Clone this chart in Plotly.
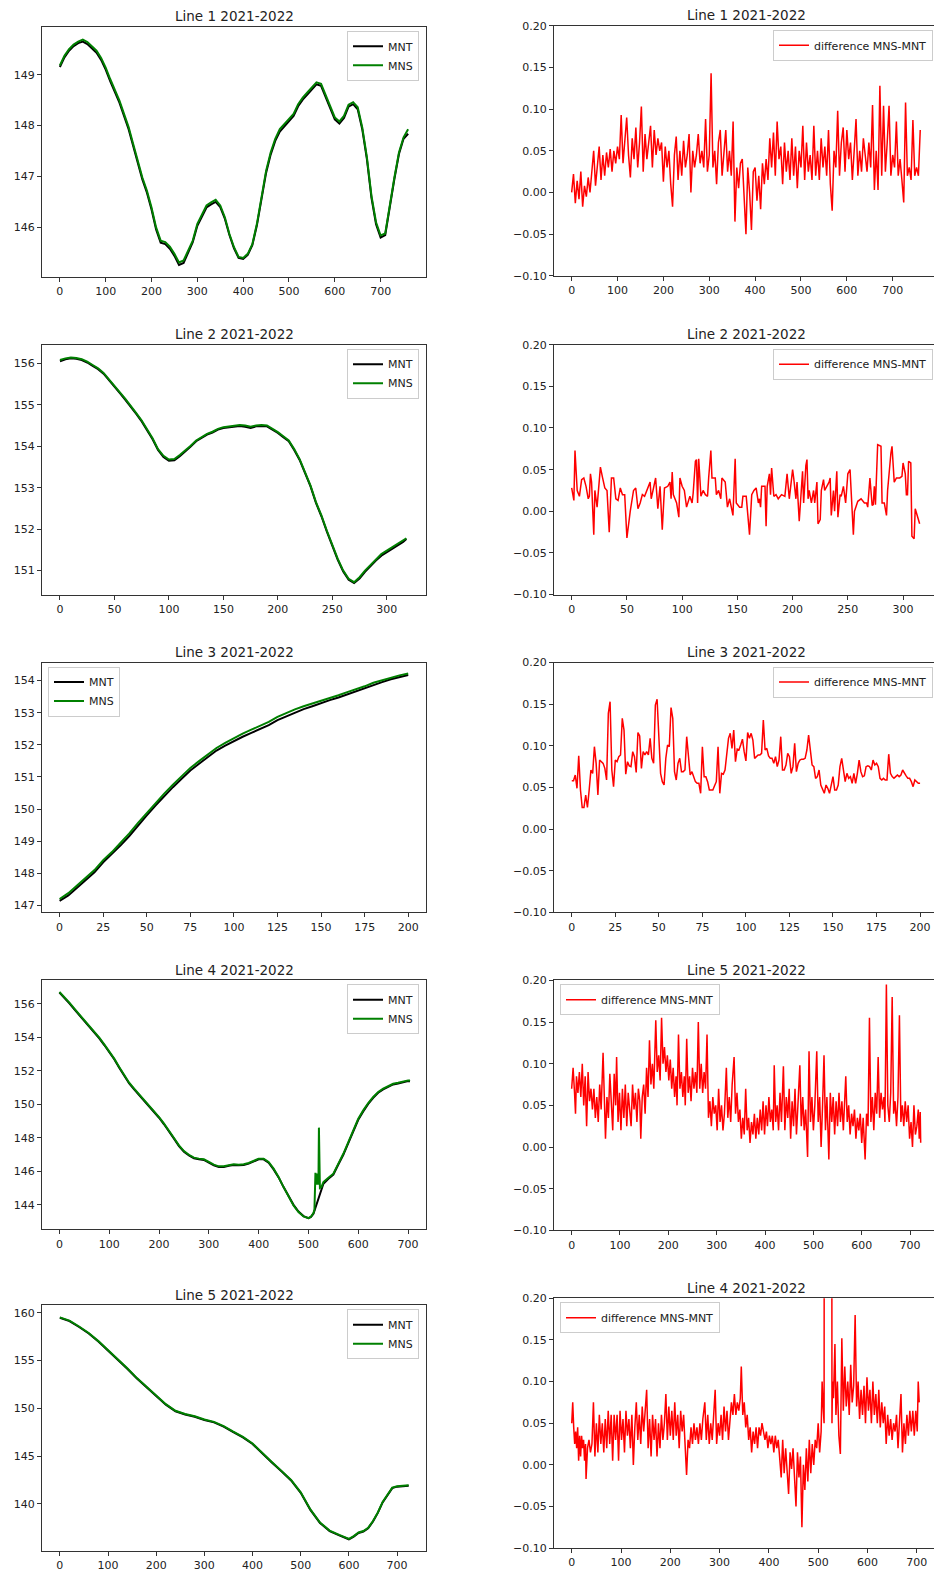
import plotly.graph_objects as go

# ---------------- data ----------------
line1_x = list(range(0, 761, 10))
line1_mns = [149.18, 149.37, 149.50, 149.59, 149.65, 149.69, 149.64, 149.55, 149.47, 149.33,
             149.14, 148.91, 148.70, 148.49, 148.23, 147.97, 147.64, 147.31, 146.98, 146.72,
             146.39, 146.00, 145.74, 145.71, 145.62, 145.48, 145.31, 145.35, 145.54, 145.74,
             146.07, 146.26, 146.43, 146.49, 146.54, 146.43, 146.20, 145.87, 145.61, 145.42,
             145.40, 145.48, 145.67, 146.07, 146.59, 147.11, 147.47, 147.74, 147.93, 148.03,
             148.13, 148.23, 148.42, 148.55, 148.65, 148.76, 148.85, 148.82, 148.59, 148.36,
             148.16, 148.08, 148.19, 148.41, 148.46, 148.36, 147.96, 147.38, 146.62, 146.10,
             145.84, 145.88, 146.46, 146.98, 147.47, 147.77, 147.93]
line1_mnt = [149.15, 149.34, 149.47, 149.56, 149.62, 149.65, 149.60, 149.51, 149.43, 149.29,
             149.10, 148.87, 148.66, 148.45, 148.19, 147.93, 147.60, 147.27, 146.94, 146.68,
             146.35, 145.96, 145.70, 145.67, 145.58, 145.44, 145.26, 145.30, 145.50, 145.71,
             146.03, 146.22, 146.39, 146.45, 146.50, 146.40, 146.17, 145.85, 145.59, 145.40,
             145.38, 145.46, 145.65, 146.04, 146.55, 147.07, 147.43, 147.70, 147.88, 147.98,
             148.09, 148.19, 148.38, 148.51, 148.61, 148.72, 148.81, 148.78, 148.55, 148.32,
             148.12, 148.04, 148.15, 148.37, 148.42, 148.32, 147.92, 147.34, 146.58, 146.06,
             145.80, 145.85, 146.43, 146.95, 147.44, 147.74, 147.84]

line2_x = list(range(0, 316, 5)) + [318]
line2_mns = [156.08, 156.12, 156.14, 156.13, 156.10, 156.04, 155.96, 155.88, 155.77, 155.62,
             155.46, 155.30, 155.14, 154.98, 154.80, 154.62, 154.42, 154.19, 153.93, 153.77,
             153.68, 153.69, 153.79, 153.89, 154.01, 154.14, 154.22, 154.30, 154.35, 154.42,
             154.46, 154.48, 154.50, 154.51, 154.50, 154.47, 154.50, 154.51, 154.50, 154.43,
             154.34, 154.24, 154.14, 153.93, 153.69, 153.37, 153.05, 152.65, 152.33, 151.96,
             151.60, 151.28, 151.00, 150.80, 150.72, 150.84, 151.00, 151.14, 151.28, 151.40,
             151.48, 151.56, 151.64, 151.72, 151.78]
line2_mnt = [156.05, 156.10, 156.12, 156.11, 156.08, 156.02, 155.94, 155.86, 155.75, 155.60,
             155.44, 155.28, 155.12, 154.96, 154.78, 154.60, 154.40, 154.17, 153.91, 153.74,
             153.65, 153.66, 153.76, 153.87, 153.99, 154.12, 154.20, 154.28, 154.33, 154.40,
             154.44, 154.46, 154.48, 154.49, 154.47, 154.44, 154.48, 154.49, 154.48, 154.41,
             154.32, 154.22, 154.12, 153.91, 153.67, 153.35, 153.03, 152.63, 152.31, 151.94,
             151.58, 151.26, 150.98, 150.78, 150.70, 150.81, 150.97, 151.11, 151.24, 151.36,
             151.44, 151.52, 151.61, 151.69, 151.76]

line3_x = list(range(0, 201, 5))
line3_mns = [147.20, 147.38, 147.62, 147.86, 148.10, 148.41, 148.66, 148.95, 149.24, 149.57,
             149.88, 150.19, 150.48, 150.76, 151.02, 151.28, 151.49, 151.70, 151.90, 152.06,
             152.21, 152.35, 152.47, 152.58, 152.71, 152.87, 152.99, 153.10, 153.20, 153.28,
             153.38, 153.46, 153.54, 153.64, 153.72, 153.82, 153.93, 154.01, 154.10, 154.16,
             154.22]
line3_mnt = [147.14, 147.31, 147.55, 147.79, 148.03, 148.34, 148.59, 148.87, 149.16, 149.49,
             149.80, 150.11, 150.40, 150.68, 150.94, 151.20, 151.41, 151.62, 151.82, 151.97,
             152.12, 152.25, 152.37, 152.49, 152.61, 152.77, 152.89, 153.00, 153.11, 153.20,
             153.30, 153.39, 153.47, 153.57, 153.65, 153.75, 153.86, 153.95, 154.04, 154.11,
             154.17]

line4_mns_x = (list(range(0, 501, 10)) + [505, 510, 512, 514, 516, 518, 520, 521, 523, 526, 530]
               + list(range(540, 701, 10)) + [704])
line4_mns = [156.70, 156.40, 156.06, 155.70, 155.36, 155.00, 154.67, 154.31, 153.97, 153.57,
             153.15, 152.72, 152.22, 151.72, 151.28, 150.93, 150.59, 150.23, 149.93, 149.59,
             149.23, 148.84, 148.44, 147.98, 147.54, 147.20, 146.98, 146.81, 146.75, 146.71,
             146.55, 146.39, 146.29, 146.29, 146.35, 146.41, 146.39, 146.41, 146.49, 146.61,
             146.75, 146.75, 146.55, 146.15, 145.65, 145.05, 144.46, 143.96, 143.56, 143.30,
             143.20,
             143.28, 143.50, 143.70, 145.90, 145.20, 145.85, 145.20, 148.60, 145.00, 145.05, 145.35,
             145.61, 145.85, 146.45, 147.04, 147.74, 148.44, 149.13, 149.63, 150.07, 150.43,
             150.73, 150.93, 151.06, 151.22, 151.28, 151.36, 151.42,
             151.42]
line4_mnt_x = (list(range(0, 501, 10)) + [505, 510, 514, 518, 522, 526, 530]
               + list(range(540, 701, 10)) + [704])
line4_mnt = [156.66, 156.36, 156.02, 155.66, 155.32, 154.96, 154.63, 154.27, 153.93, 153.53,
             153.11, 152.68, 152.18, 151.68, 151.24, 150.89, 150.55, 150.19, 149.89, 149.55,
             149.19, 148.80, 148.40, 147.94, 147.50, 147.16, 146.94, 146.77, 146.71, 146.67,
             146.51, 146.35, 146.25, 146.25, 146.33, 146.37, 146.35, 146.37, 146.45, 146.57,
             146.71, 146.71, 146.51, 146.11, 145.63, 145.05, 144.48, 143.99, 143.59, 143.32,
             143.20,
             143.27, 143.46, 143.80, 144.10, 144.45, 144.85, 145.25,
             145.55, 145.80, 146.40, 146.98, 147.68, 148.38, 149.07, 149.57, 150.02, 150.38,
             150.68, 150.88, 151.02, 151.18, 151.24, 151.32, 151.38,
             151.37]

line5_x = list(range(0, 601, 20)) + [610, 620, 630, 640, 650, 660, 670, 680, 690, 700, 710, 724]
line5_mns = [159.52, 159.18, 158.56, 157.88, 157.03, 156.07, 155.21, 154.19, 153.16, 152.24,
             151.32, 150.43, 149.74, 149.40, 149.16, 148.82, 148.58, 148.14, 147.56, 147.01,
             146.32, 145.40, 144.38, 143.45, 142.50, 141.20, 139.42, 138.05, 137.20, 136.75,
             136.34,
             136.62, 137.00, 137.15, 137.50, 138.20, 139.10, 140.20, 141.00, 141.70, 141.85,
             141.92, 141.95]
line5_mnt = [159.47, 159.13, 158.51, 157.83, 156.98, 156.02, 155.16, 154.14, 153.11, 152.19,
             151.27, 150.38, 149.69, 149.35, 149.11, 148.77, 148.53, 148.09, 147.51, 146.96,
             146.27, 145.35, 144.33, 143.40, 142.45, 141.15, 139.37, 138.00, 137.15, 136.70,
             136.29,
             136.57, 136.95, 137.10, 137.45, 138.15, 139.05, 140.15, 140.95, 141.65, 141.80,
             141.87, 141.90]

diff1_x = list(range(0, 761, 4))
diff1 = [0.0, 0.022, -0.013, 0.014, -0.008, 0.025, -0.017, 0.008, -0.005, 0.018,
         0.0, 0.03, 0.05, 0.008, 0.035, 0.055, 0.015, 0.045, 0.02, 0.048,
         0.03, 0.052, 0.025, 0.05, 0.035, 0.055, 0.04, 0.093, 0.035, 0.06,
         0.09, 0.045, 0.018, 0.065, 0.04, 0.078, 0.03, 0.06, 0.103, 0.025,
         0.07, 0.04, 0.065, 0.08, 0.03, 0.075, 0.045, 0.065, 0.05, 0.06,
         0.013, 0.055, 0.03, 0.05, 0.01, -0.017, 0.045, 0.067, 0.015, 0.05,
         0.02, 0.062, 0.03, 0.045, 0.07, 0.0, 0.05, 0.03, 0.045, 0.07,
         0.035, 0.05, 0.03, 0.088, 0.025, 0.045, 0.143, 0.03, 0.05, 0.01,
         0.06, 0.075, 0.02, 0.045, 0.075, 0.025, 0.05, 0.02, 0.085, -0.035,
         0.03, 0.005, 0.035, 0.04, -0.01, -0.05, 0.03, 0.0, -0.045, 0.025,
         0.03, -0.01, 0.02, -0.02, 0.035, 0.01, 0.04, 0.015, 0.065, 0.03,
         0.072, 0.02, 0.085, 0.04, 0.055, 0.01, 0.06, 0.025, 0.05, 0.015,
         0.065, 0.02, 0.055, 0.005, 0.05, 0.03, 0.08, 0.015, 0.06, 0.025,
         0.045, 0.015, 0.08, 0.02, 0.05, 0.015, 0.065, 0.03, 0.055, 0.02,
         0.075, 0.01, -0.022, 0.05, 0.03, 0.098, 0.02, 0.06, 0.078, 0.025,
         0.075, 0.04, 0.06, 0.015, 0.05, 0.088, 0.02, 0.05, 0.025, 0.065,
         0.045, 0.025, 0.06, 0.03, 0.105, 0.003, 0.05, 0.003, 0.128, 0.02,
         0.104, 0.025, 0.06, 0.104, 0.02, 0.045, 0.03, 0.085, 0.02, 0.04,
         0.015, -0.012, 0.108, 0.02, 0.03, 0.015, 0.087, 0.02, 0.03, 0.02,
         0.075]

diff2_x = [0, 2, 3, 5, 7, 9, 11, 13, 15, 16, 17, 18, 20, 21, 23, 26, 28, 30, 32, 34,
           36, 38, 40, 42, 44, 46, 48, 50, 53, 54, 56, 58, 60, 62, 64, 66, 68, 71, 72, 76,
           78, 80, 82, 84, 87, 89, 90, 91, 92, 95, 97, 98, 100, 102, 104, 107, 109, 110, 112, 113,
           114, 115, 117, 119, 121, 123, 124, 126, 127, 130, 131, 133, 135, 136, 139, 141, 143, 145, 146, 148,
           149, 152, 154, 155, 158, 161, 163, 165, 167, 169, 170, 171, 172, 175, 176, 177, 179, 180, 181, 183,
           185, 187, 190, 193, 195, 197, 200, 201, 203, 204, 206, 209, 210, 212, 213, 214, 215, 217, 219, 220,
           222, 223, 225, 226, 228, 229, 231, 233, 234, 235, 237, 238, 240, 241, 243, 244, 246, 248, 250, 252,
           255, 256, 259, 262, 265, 267, 268, 270, 272, 273, 274, 275, 277, 280, 281, 283, 285, 286, 289, 290,
           292, 294, 297, 299, 300, 302, 303, 304, 305, 307, 308, 310, 311, 313, 315]
diff2 = [0.028, 0.013, 0.073, 0.025, 0.018, 0.038, 0.04, 0.03, 0.015, 0.018, 0.045, 0.035, -0.028, 0.025, 0.005, 0.053, 0.04, 0.028, 0.025, -0.025,
         0.04, 0.04, 0.015, 0.013, 0.028, 0.02, 0.02, -0.032, 0.0, 0.008, 0.025, 0.028, 0.003, 0.01, 0.02, 0.018, 0.025, 0.035, 0.015, 0.04,
         0.003, 0.03, -0.022, 0.028, 0.03, 0.035, 0.015, 0.047, 0.02, 0.01, -0.007, 0.04, 0.03, 0.025, 0.005, 0.018, 0.01, 0.022, 0.06, 0.062,
         0.01, 0.063, 0.018, 0.025, 0.02, 0.018, 0.04, 0.073, 0.04, 0.04, 0.02, 0.025, 0.015, 0.04, 0.035, 0.005, 0.015, 0.0, -0.005, 0.063,
         0.01, 0.005, 0.005, 0.018, 0.018, -0.028, 0.02, 0.025, 0.028, 0.01, 0.015, 0.005, 0.03, 0.03, -0.018, 0.03, 0.045, 0.02, 0.052, 0.018,
         0.02, 0.015, 0.02, 0.018, 0.045, 0.015, 0.05, 0.04, 0.015, 0.035, -0.012, 0.048, 0.01, 0.055, 0.062, 0.015, 0.025, 0.01, 0.025, 0.01,
         0.035, -0.015, -0.01, 0.025, 0.038, 0.025, 0.03, 0.035, 0.04, -0.005, 0.025, 0.0, 0.048, -0.007, 0.02, 0.018, 0.03, 0.01, 0.045, 0.05,
         -0.028, 0.0, 0.012, 0.015, 0.01, 0.01, 0.005, 0.04, 0.007, 0.008, 0.03, 0.008, 0.08, 0.078, 0.01, 0.01, -0.005, 0.025, 0.07, 0.078,
         0.035, 0.04, 0.04, 0.042, 0.058, 0.045, 0.02, 0.02, 0.06, 0.058, -0.03, -0.033, 0.003, -0.005, -0.015]

diff3_x = list(range(0, 201))
diff3 = [0.058, 0.058, 0.065, 0.049, 0.088, 0.047, 0.026, 0.026, 0.041, 0.026,
         0.047, 0.071, 0.067, 0.099, 0.079, 0.041, 0.083, 0.081, 0.079, 0.073,
         0.059, 0.139, 0.153, 0.071, 0.051, 0.083, 0.081, 0.087, 0.089, 0.133,
         0.119, 0.066, 0.081, 0.076, 0.075, 0.093, 0.087, 0.068, 0.116, 0.112,
         0.073, 0.093, 0.089, 0.093, 0.089, 0.109, 0.085, 0.079, 0.149, 0.156,
         0.119, 0.067, 0.057, 0.053, 0.085, 0.101, 0.099, 0.146, 0.133, 0.069,
         0.059, 0.079, 0.085, 0.069, 0.069, 0.071, 0.111, 0.083, 0.065, 0.069,
         0.063, 0.057, 0.055, 0.055, 0.043, 0.099, 0.063, 0.063, 0.057, 0.047,
         0.047, 0.047, 0.052, 0.057, 0.099, 0.043, 0.067, 0.066, 0.071, 0.089,
         0.109, 0.115, 0.097, 0.119, 0.081, 0.096, 0.095, 0.101, 0.108, 0.093,
         0.082, 0.116, 0.109, 0.115, 0.107, 0.085, 0.087, 0.089, 0.089, 0.091,
         0.131, 0.095, 0.097, 0.088, 0.085, 0.085, 0.079, 0.087, 0.075, 0.083,
         0.111, 0.071, 0.071, 0.077, 0.091, 0.087, 0.067, 0.075, 0.103, 0.069,
         0.079, 0.083, 0.084, 0.084, 0.085, 0.095, 0.113, 0.097, 0.077, 0.075,
         0.061, 0.063, 0.071, 0.053, 0.047, 0.043, 0.053, 0.049, 0.043, 0.053,
         0.063, 0.047, 0.047, 0.053, 0.075, 0.085, 0.071, 0.057, 0.067, 0.061,
         0.063, 0.055, 0.067, 0.055, 0.067, 0.083, 0.069, 0.063, 0.064, 0.075,
         0.076, 0.075, 0.071, 0.083, 0.077, 0.079, 0.075, 0.061, 0.059, 0.061,
         0.059, 0.059, 0.090, 0.067, 0.063, 0.061, 0.063, 0.065, 0.063, 0.065,
         0.071, 0.067, 0.064, 0.061, 0.061, 0.057, 0.051, 0.059, 0.057, 0.055,
         0.055]

diff5_x = [0, 3, 6, 8, 10, 13, 16, 19, 22, 25, 28, 31, 34, 37, 40, 43, 46, 49, 52, 55,
           58, 61, 65, 68, 70, 73, 76, 79, 82, 85, 88, 91, 93, 96, 99, 102, 105, 108, 111, 114,
           117, 120, 123, 126, 129, 132, 135, 138, 141, 143, 146, 149, 152, 155, 158, 161, 164, 167, 170, 174,
           177, 180, 183, 186, 189, 192, 195, 198, 201, 204, 207, 210, 213, 216, 218, 221, 224, 227, 230, 233,
           235, 238, 241, 244, 247, 250, 253, 256, 259, 262, 265, 268, 271, 274, 277, 280, 283, 286, 289, 292,
           295, 298, 301, 304, 307, 310, 313, 316, 320, 323, 326, 329, 332, 336, 339, 342, 345, 348, 351, 354,
           357, 360, 363, 366, 369, 372, 375, 378, 381, 384, 387, 390, 393, 396, 399, 402, 405, 408, 411, 414,
           417, 419, 422, 425, 428, 431, 434, 438, 441, 444, 447, 450, 453, 456, 459, 462, 465, 468, 472, 475,
           478, 481, 484, 488, 491, 494, 497, 500, 503, 507, 510, 513, 516, 519, 522, 525, 528, 532, 535, 538,
           541, 544, 547, 550, 553, 556, 559, 562, 565, 567, 570, 573, 576, 579, 582, 585, 588, 591, 594, 597,
           600, 603, 607, 610, 613, 616, 619, 622, 625, 628, 631, 634, 637, 640, 643, 646, 648, 651, 654, 657,
           660, 663, 666, 669, 672, 675, 678, 681, 684, 687, 690, 693, 696, 699, 702, 705, 708, 711, 714, 717,
           719, 721, 722]
diff5 = [0.07, 0.095, 0.065, 0.04, 0.085, 0.065, 0.09, 0.06, 0.1, 0.05, 0.085, 0.025, 0.09, 0.055, 0.07, 0.045, 0.07, 0.035, 0.06, 0.03,
         0.075, 0.045, 0.113, 0.03, 0.01, 0.06, 0.035, 0.088, 0.045, 0.02, 0.088, 0.05, 0.108, 0.03, 0.065, 0.02, 0.07, 0.035, 0.075, 0.025,
         0.065, 0.04, 0.025, 0.075, 0.045, 0.065, 0.03, 0.07, 0.055, 0.01, 0.06, 0.075, 0.04, 0.095, 0.06, 0.128, 0.075, 0.1, 0.07, 0.152,
         0.09, 0.11, 0.08, 0.155, 0.1, 0.12, 0.09, 0.11, 0.08, 0.105, 0.07, 0.095, 0.06, 0.085, 0.05, 0.135, 0.07, 0.09, 0.06, 0.085,
         0.05, 0.13, 0.065, 0.085, 0.055, 0.095, 0.07, 0.09, 0.065, 0.15, 0.07, 0.1, 0.065, 0.09, 0.07, 0.135, 0.035, 0.055, 0.025, 0.06,
         0.04, 0.05, 0.02, 0.07, 0.03, 0.05, 0.02, 0.04, 0.095, 0.035, 0.06, 0.03, 0.075, 0.108, 0.04, 0.065, 0.03, 0.045, 0.01, 0.035,
         0.015, 0.07, 0.02, 0.035, 0.005, 0.03, 0.015, 0.04, 0.01, 0.035, 0.015, 0.045, 0.02, 0.055, 0.015, 0.05, 0.025, 0.06, 0.03, 0.045,
         0.02, 0.098, 0.03, 0.05, 0.02, 0.065, 0.03, 0.097, 0.02, 0.06, 0.035, 0.07, 0.01, 0.055, 0.025, 0.07, 0.015, 0.05, 0.098, 0.025,
         0.06, 0.02, 0.045, -0.012, 0.115, 0.03, 0.06, 0.02, 0.05, 0.115, 0.03, 0.06, 0.0, 0.05, 0.11, 0.02, 0.06, -0.015, 0.065, 0.03,
         0.06, 0.015, 0.055, 0.025, 0.065, 0.03, 0.055, 0.02, 0.05, 0.085, 0.03, 0.05, 0.015, 0.04, 0.025, 0.045, 0.01, 0.035, 0.02, 0.04,
         0.005, 0.035, -0.015, 0.04, 0.025, 0.155, 0.03, 0.06, 0.02, 0.065, 0.04, 0.108, 0.035, 0.065, 0.045, 0.06, 0.03, 0.195, 0.05, 0.03,
         0.065, 0.18, 0.04, 0.055, 0.025, 0.06, 0.158, 0.03, 0.05, 0.025, 0.055, 0.03, 0.05, 0.01, 0.03, 0.0, 0.05, 0.015, 0.025, 0.045,
         0.01, 0.042, 0.005]

diff4_x = [0, 2, 4, 6, 8, 10, 12, 14, 16, 18, 20, 22, 24, 26, 28, 29, 32, 35, 38, 41,
           44, 47, 50, 53, 56, 59, 62, 65, 68, 71, 74, 77, 80, 83, 86, 89, 92, 95, 98, 101,
           104, 107, 110, 113, 116, 119, 122, 125, 128, 131, 134, 137, 140, 143, 146, 149, 152, 155, 158, 161,
           164, 167, 170, 173, 176, 179, 182, 185, 188, 191, 194, 197, 200, 203, 206, 209, 212, 215, 218, 221,
           224, 227, 230, 233, 236, 239, 242, 245, 248, 251, 254, 257, 260, 263, 266, 270, 273, 276, 279, 282,
           285, 288, 291, 294, 297, 300, 303, 306, 309, 312, 315, 318, 321, 324, 327, 330, 333, 336, 339, 342,
           344, 347, 350, 353, 356, 359, 362, 365, 368, 371, 374, 377, 380, 383, 386, 389, 392, 395, 398, 401,
           404, 407, 410, 413, 416, 419, 422, 425, 428, 431, 434, 437, 440, 443, 446, 449, 452, 455, 458, 461,
           464, 467, 470, 473, 476, 479, 482, 485, 488, 491, 494, 497, 500, 503, 506, 508, 510, 512, 514, 516,
           518, 520, 521, 523, 526, 528, 529, 531, 534, 536, 539, 542, 545, 548, 551, 554, 557, 560, 563, 566,
           569, 572, 575, 578, 581, 584, 587, 590, 593, 596, 599, 602, 605, 608, 611, 614, 617, 620, 623, 626,
           629, 632, 635, 638, 641, 644, 647, 650, 653, 656, 659, 662, 665, 668, 671, 674, 677, 680, 683, 686,
           689, 692, 695, 698, 701, 703, 705]
diff4 = [0.05, 0.075, 0.045, 0.025, 0.04, 0.02, 0.045, 0.005, 0.035, 0.01, 0.035, 0.02, 0.03, 0.005, 0.025, -0.017, 0.02, 0.03, 0.015, 0.025,
         0.075, 0.01, 0.05, 0.015, 0.06, 0.025, 0.05, 0.015, 0.055, 0.02, 0.065, 0.025, 0.06, 0.005, 0.06, 0.03, 0.06, 0.005, 0.065, 0.03,
         0.055, 0.015, 0.065, 0.035, 0.055, 0.02, 0.06, 0.0, 0.045, 0.075, 0.03, 0.06, 0.025, 0.07, 0.04, 0.065, 0.09, 0.02, 0.055, 0.01,
         0.06, 0.03, 0.055, 0.01, 0.05, 0.02, 0.06, 0.03, 0.05, 0.085, 0.03, 0.07, 0.035, 0.065, 0.03, 0.075, 0.035, 0.06, 0.02, 0.065,
         0.04, 0.06, 0.02, -0.012, 0.03, 0.02, 0.045, 0.025, 0.05, 0.03, 0.045, 0.025, 0.05, 0.03, 0.055, 0.075, 0.03, 0.06, 0.025, 0.05,
         0.03, 0.06, 0.09, 0.025, 0.05, 0.035, 0.06, 0.03, 0.07, 0.04, 0.065, 0.03, 0.05, 0.075, 0.06, 0.085, 0.06, 0.075, 0.065, 0.08,
         0.118, 0.06, 0.075, 0.045, 0.06, 0.03, 0.045, 0.015, 0.04, 0.025, 0.045, 0.02, 0.045, 0.035, 0.05, 0.04, 0.03, 0.04, 0.02, 0.035,
         0.025, 0.035, 0.015, 0.035, 0.02, 0.03, 0.01, -0.015, 0.03, -0.01, 0.02, -0.005, -0.035, 0.015, -0.005, 0.02, -0.02, -0.05, 0.015, -0.015,
         0.01, -0.075, 0.0, -0.03, 0.02, -0.02, 0.03, -0.01, 0.025, 0.0, 0.03, 0.02, 0.05, 0.015, 0.04, 0.1, 0.07, 0.05, 2.1, 1.4,
         2.0, 1.4, 5.4, 1.9, 1.5, 0.05, 0.1, 0.08, 0.145, 0.06, 0.1, 0.035, 0.013, 0.152, 0.065, 0.118, 0.07, 0.1, 0.06, 0.12,
         0.075, 0.095, 0.18, 0.07, 0.1, 0.055, 0.09, 0.06, 0.095, 0.05, 0.105, 0.065, 0.09, 0.05, 0.1, 0.06, 0.085, 0.05, 0.09, 0.045,
         0.075, 0.05, 0.07, 0.025, 0.06, 0.035, 0.055, 0.03, 0.05, 0.04, 0.06, 0.02, 0.05, 0.085, 0.015, 0.05, 0.025, 0.06, 0.035, 0.065,
         0.04, 0.065, 0.035, 0.065, 0.04, 0.1, 0.075]

titles_left = ["Line 1 2021-2022", "Line 2 2021-2022", "Line 3 2021-2022",
               "Line 4 2021-2022", "Line 5 2021-2022"]
titles_right = ["Line 1 2021-2022", "Line 2 2021-2022", "Line 3 2021-2022",
                "Line 5 2021-2022", "Line 4 2021-2022"]

xticks_left = [list(range(0, 701, 100)), list(range(0, 301, 50)), list(range(0, 201, 25)),
               list(range(0, 701, 100)), list(range(0, 701, 100))]
xticks_right = [list(range(0, 701, 100)), list(range(0, 301, 50)), list(range(0, 201, 25)),
                list(range(0, 701, 100)), list(range(0, 701, 100))]
yticks_left = [[146, 147, 148, 149], [151, 152, 153, 154, 155, 156],
               [147, 148, 149, 150, 151, 152, 153, 154], [144, 146, 148, 150, 152, 154, 156],
               [140, 145, 150, 155, 160]]
yticks_right = [-0.10, -0.05, 0.00, 0.05, 0.10, 0.15, 0.20]
yticklabels_right = ["\u22120.10", "\u22120.05", "0.00", "0.05", "0.10", "0.15", "0.20"]

# ---------------- layout geometry ----------------
W, H = 934, 1575
LEFT_PX = (42, 426)
RIGHT_PX = (554, 934)
RIGHT_TITLE_CX = 746
rows_left_px = [(21, 273), (341.5, 593.5), (662, 914), (982.5, 1233.5), (1310, 1558)]
rows_right_px = [(20, 272), (341.5, 593.5), (662, 914), (982.5, 1234.5), (1303, 1555)]
xr_left = [[-39, 799], [-16.5, 336], [-10.1, 210.2], [-35, 736], [-37, 760]]
xr_right = [[-38.5, 790], [-16, 328], [-10.2, 208], [-36.5, 749.5], [-36, 735]]
yr_left = [[145.03, 149.94], [150.42, 156.45], [146.78, 154.56], [142.53, 157.39], [135.05, 160.79]]
legend_left_pos = ["tr", "tr", "tl", "tr", "tr"]
legend_right_pos = ["tr", "tr", "tr", "tl", "tl"]

left_series = [
    (line1_x, line1_mnt, line1_x, line1_mns),
    (line2_x, line2_mnt, line2_x, line2_mns),
    (line3_x, line3_mnt, line3_x, line3_mns),
    (line4_mnt_x, line4_mnt, line4_mns_x, line4_mns),
    (line5_x, line5_mnt, line5_x, line5_mns),
]
right_series = [(diff1_x, diff1), (diff2_x, diff2), (diff3_x, diff3),
                (diff5_x, diff5), (diff4_x, diff4)]

FONT = "DejaVu Sans"
AX_COL = "#333333"
TXT_COL = "#222222"

fig = go.Figure()
layout = {}
annotations = []


def axis_names(i):
    xa = "x" if i == 1 else f"x{i}"
    ya = "y" if i == 1 else f"y{i}"
    xk = "xaxis" if i == 1 else f"xaxis{i}"
    yk = "yaxis" if i == 1 else f"yaxis{i}"
    lg = "legend" if i == 1 else f"legend{i}"
    return xa, ya, xk, yk, lg


def make_axes(xa, ya, xpx, ypx, xrange, yrange, xt, yt, ytext, ymirror):
    xdom = [xpx[0] / W, xpx[1] / W]
    ydom = [1 - ypx[1] / H, 1 - ypx[0] / H]
    common = dict(showline=True, linecolor=AX_COL, linewidth=1, ticks="outside",
                  ticklen=4, tickwidth=1, tickcolor=AX_COL, showgrid=False,
                  zeroline=False, tickfont=dict(family=FONT, size=11, color=TXT_COL),
                  tickmode="array")
    xd = dict(common, domain=xdom, range=xrange, anchor=ya, mirror=True,
              tickvals=xt, ticktext=[str(v) for v in xt])
    yd = dict(common, domain=ydom, range=yrange, anchor=xa, mirror=ymirror,
              tickvals=yt, ticktext=ytext)
    return xd, yd


def legend_dict(pos, xpx, top_px, right_edge):
    d = dict(bgcolor="rgba(255,255,255,0.85)", bordercolor="#cccccc", borderwidth=1,
             font=dict(family=FONT, size=11, color=TXT_COL), tracegroupgap=0,
             itemwidth=30, yanchor="top", y=1 - top_px / H)
    if pos == "tr":
        d.update(xanchor="right", x=right_edge / W)
    else:
        d.update(xanchor="left", x=(xpx[0] + 6) / W)
    return d


for r in range(5):
    # left panel
    i = 2 * r + 1
    xa, ya, xk, yk, lg = axis_names(i)
    mx, mnt, sx, mns = left_series[r]
    fig.add_trace(go.Scatter(x=mx, y=mnt, mode="lines", name="MNT",
                             line=dict(color="black", width=2),
                             xaxis=xa, yaxis=ya, legend=lg))
    fig.add_trace(go.Scatter(x=sx, y=mns, mode="lines", name="MNS",
                             line=dict(color="#008000", width=2),
                             xaxis=xa, yaxis=ya, legend=lg))
    xd, yd = make_axes(xa, ya, LEFT_PX, rows_left_px[r], xr_left[r], yr_left[r],
                       xticks_left[r], yticks_left[r], [str(v) for v in yticks_left[r]], True)
    layout[xk] = xd
    layout[yk] = yd
    layout[lg] = legend_dict(legend_left_pos[r], LEFT_PX, rows_left_px[r][0] + 4,
                             LEFT_PX[1] - 7)
    annotations.append(dict(text=titles_left[r], xref="paper", yref="paper",
                            x=(LEFT_PX[0] + LEFT_PX[1]) / 2 / W,
                            y=1 - (rows_left_px[r][0] - 10.6) / H,
                            xanchor="center", yanchor="middle", showarrow=False,
                            font=dict(family=FONT, size=13.5, color=TXT_COL)))

    # right panel
    i = 2 * r + 2
    xa, ya, xk, yk, lg = axis_names(i)
    dx, dy = right_series[r]
    fig.add_trace(go.Scatter(x=dx, y=dy, mode="lines", name="difference MNS-MNT",
                             line=dict(color="#ff0000", width=1.5),
                             xaxis=xa, yaxis=ya, legend=lg))
    xd, yd = make_axes(xa, ya, RIGHT_PX, rows_right_px[r], xr_right[r], [-0.1, 0.2],
                       xticks_right[r], yticks_right, yticklabels_right, False)
    layout[xk] = xd
    layout[yk] = yd
    layout[lg] = legend_dict(legend_right_pos[r], RIGHT_PX, rows_right_px[r][0] + 4,
                             RIGHT_PX[1] - 1)
    annotations.append(dict(text=titles_right[r], xref="paper", yref="paper",
                            x=RIGHT_TITLE_CX / W,
                            y=1 - (rows_right_px[r][0] - 10.6) / H,
                            xanchor="center", yanchor="middle", showarrow=False,
                            font=dict(family=FONT, size=13.5, color=TXT_COL)))

fig.update_layout(width=W, height=H, margin=dict(l=0, r=0, t=0, b=0),
                  paper_bgcolor="white", plot_bgcolor="white",
                  font=dict(family=FONT, size=11, color=TXT_COL),
                  showlegend=True, annotations=annotations, **layout)

fig.write_html("out.html")
